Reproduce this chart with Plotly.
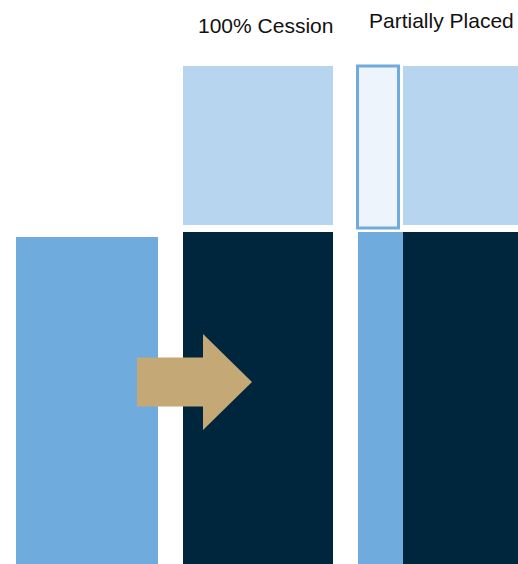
import plotly.graph_objects as go

W, H = 518, 564

# Column labels
group_labels = ["100% Cession", "Partially Placed"]

# Block heights (chart units, 0 = bottom edge)
gross_height = [327]          # original exposure
ceded_height = [332, 332]     # ceded layer under each structure
cover_base = [339, 339]       # upper cover blocks start here
cover_height = [159, 159]
unplaced_base = [336]
unplaced_height = [162]

# Horizontal spans of the columns (chart units)
gross_span = (16, 158)
cession_span = (183, 333)
retained_span = (358, 403)
placed_span = (403, 518)
unplaced_span = (357.5, 398.5)

NAVY = "#00263e"
MID_BLUE = "#6fabdc"
LIGHT_BLUE = "#b7d5ee"
PALE = "#eef4fc"
TAN = "#c4a876"


def block(span, base, height, color, line_color=None, line_width=0):
    x0, x1 = span
    return go.Bar(
        x=[(x0 + x1) / 2], y=height, base=base, width=[x1 - x0],
        marker=dict(color=color,
                    line=dict(color=line_color or color, width=line_width)),
        hoverinfo="skip", showlegend=False,
    )


fig = go.Figure()
fig.add_trace(block(gross_span, [0], gross_height, MID_BLUE))
fig.add_trace(block(cession_span, [0], ceded_height[:1], NAVY))
fig.add_trace(block(cession_span, cover_base[:1], cover_height[:1], LIGHT_BLUE))
fig.add_trace(block(retained_span, [0], ceded_height[1:], MID_BLUE))
fig.add_trace(block(placed_span, [0], ceded_height[1:], NAVY))
fig.add_trace(block(placed_span, cover_base[1:], cover_height[1:], LIGHT_BLUE))
fig.add_trace(block(unplaced_span, unplaced_base, unplaced_height, PALE,
                    line_color=MID_BLUE, line_width=3))

# Transfer arrow from the gross column into the ceded structure
tail_x, neck_x, tip_x = 137, 203, 252
mid_y, shaft_half, head_half = 182, 24.5, 48
arrow_path = (
    f"M{tail_x},{mid_y + shaft_half} L{neck_x},{mid_y + shaft_half} "
    f"L{neck_x},{mid_y + head_half} L{tip_x},{mid_y} "
    f"L{neck_x},{mid_y - head_half} L{neck_x},{mid_y - shaft_half} "
    f"L{tail_x},{mid_y - shaft_half} Z"
)
fig.add_shape(type="path", path=arrow_path, xref="x", yref="y",
              fillcolor=TAN, line=dict(width=0), layer="above")

label_font = dict(family="Liberation Sans, Arial, sans-serif",
                  size=21, color="#111111")
fig.add_annotation(x=265.5, y=539, text=group_labels[0], showarrow=False,
                   xanchor="center", yanchor="middle", font=label_font)
fig.add_annotation(x=441.5, y=544, text=group_labels[1], showarrow=False,
                   xanchor="center", yanchor="middle", font=label_font)

fig.update_layout(
    width=W, height=H,
    margin=dict(l=0, r=0, t=0, b=0),
    paper_bgcolor="white", plot_bgcolor="white",
    barmode="overlay",
    xaxis=dict(range=[0, W], visible=False, fixedrange=True),
    yaxis=dict(range=[0, H], visible=False, fixedrange=True),
)

fig.write_html("out.html", config={"displayModeBar": False})
